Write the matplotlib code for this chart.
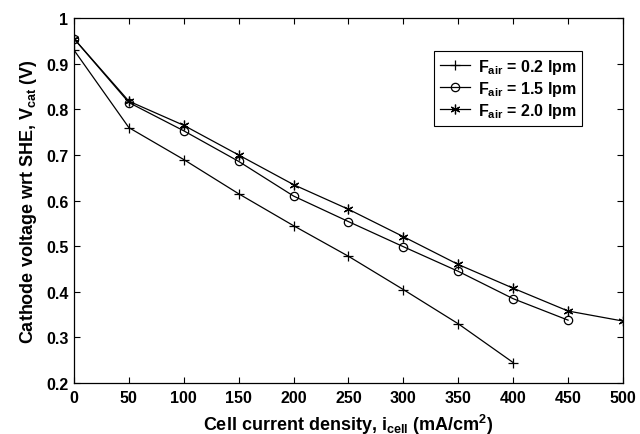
import matplotlib
matplotlib.use("Agg")
import matplotlib.pyplot as plt

plt.rcParams['font.family'] = ['Liberation Sans', 'DejaVu Sans']
plt.rcParams['font.weight'] = 'bold'
plt.rcParams['mathtext.fontset'] = 'custom'
plt.rcParams['mathtext.rm'] = 'Liberation Sans:bold'
plt.rcParams['mathtext.it'] = 'Liberation Sans:bold'
plt.rcParams['mathtext.bf'] = 'Liberation Sans:bold'

x_02 = [0, 50, 100, 150, 200, 250, 300, 350, 400]
v_02 = [0.930, 0.760, 0.690, 0.615, 0.545, 0.478, 0.405, 0.330, 0.245]
x_15 = [0, 50, 100, 150, 200, 250, 300, 350, 400, 450]
v_15 = [0.955, 0.815, 0.753, 0.686, 0.610, 0.554, 0.499, 0.445, 0.385, 0.338]
x_20 = [0, 50, 100, 150, 200, 250, 300, 350, 400, 450, 500]
v_20 = [0.955, 0.818, 0.765, 0.700, 0.635, 0.581, 0.521, 0.460, 0.408, 0.358, 0.336]
labels = [r'F$_{\mathrm{air}}$ = 0.2 lpm', r'F$_{\mathrm{air}}$ = 1.5 lpm', r'F$_{\mathrm{air}}$ = 2.0 lpm']
xticks = [0, 50, 100, 150, 200, 250, 300, 350, 400, 450, 500]
yticks = [0.2, 0.3, 0.4, 0.5, 0.6, 0.7, 0.8, 0.9, 1.0]
yticklabels = ['0.2', '0.3', '0.4', '0.5', '0.6', '0.7', '0.8', '0.9', '1']

fig = plt.figure(figsize=(6.4, 4.35), dpi=100)
ax = fig.add_axes([0.1156, 0.117, 0.8578, 0.839])

ax.plot(x_02, v_02, color='black', lw=0.9, marker='+', ms=7, mew=0.9, label=labels[0])
ax.plot(x_15, v_15, color='black', lw=0.9, marker='o', ms=6, mfc='none', mew=0.9, label=labels[1])
ax.plot(x_20, v_20, color='black', lw=0.9, marker=(6, 2, 0), ms=7, mew=0.9, label=labels[2])

ax.set_xlim(0, 500)
ax.set_ylim(0.2, 1.0)
ax.set_xticks(xticks)
ax.set_yticks(yticks)
ax.set_yticklabels(yticklabels)
ax.tick_params(direction='in', top=True, right=True, length=4, width=0.8, labelsize=11.5)
ax.tick_params(axis='x', pad=5)
ax.tick_params(axis='y', pad=4)
for lab in ax.get_xticklabels() + ax.get_yticklabels():
    lab.set_fontweight('bold')
for s in ax.spines.values():
    s.set_linewidth(0.9)

ax.set_xlabel(r'Cell current density, i$_{\mathrm{cell}}$ (mA/cm$^{2}$)', fontsize=13, fontweight='bold', labelpad=5)
ax.set_ylabel(r'Cathode voltage wrt SHE, V$_{\mathrm{cat}}$ (V)', fontsize=13, fontweight='bold', labelpad=5)

leg = ax.legend(loc='upper right', bbox_to_anchor=(0.94, 0.932), fancybox=False, edgecolor='black',
                fontsize=11.5, handlelength=1.9, borderpad=0.35, labelspacing=0.2, handletextpad=0.5,
                framealpha=1)
leg.get_frame().set_linewidth(0.8)

fig.savefig('out.png', dpi=100)
